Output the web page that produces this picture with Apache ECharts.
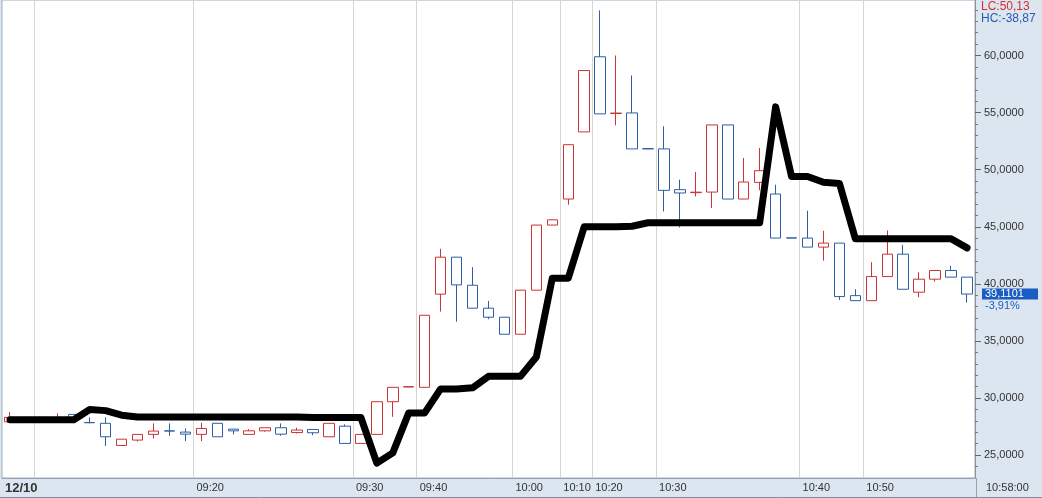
<!DOCTYPE html>
<html><head><meta charset="utf-8">
<script src="https://cdn.jsdelivr.net/npm/echarts@6/dist/echarts.min.js"></script>
<style>html,body{margin:0;padding:0;background:#dce6f0}#c{width:1042px;height:498px}</style>
</head><body><div id="c"></div>
<script>
// ---- data ----
const categories = ['09:01','09:06','09:10','09:11','09:12','09:13','09:14','09:15','09:16','09:17','09:18','09:19',
  '09:20','09:21','09:22','09:23','09:24','09:25','09:26','09:27','09:28','09:29',
  '09:30','09:32','09:35','09:38','09:40','09:41','09:43','09:45','09:47','09:49',
  '10:00','10:03','10:06','10:10','10:15','10:20','10:22','10:25','10:28',
  '10:30','10:31','10:32','10:33','10:34','10:35','10:36','10:37','10:39',
  '10:40','10:43','10:46','10:48','10:50','10:52','10:53','10:54','10:55','10:56','10:58'];
// [open, close, low, high]
const candles = [
  [27.92,28.31,27.92,28.77],[27.88,28.31,27.88,28.31],[28.31,27.95,27.95,28.31],[28.10,28.20,28.10,28.66],
  [28.57,28.16,28.16,28.57],[27.86,27.84,27.79,28.31],[27.79,26.61,25.81,28.31],[25.85,26.40,25.85,26.40],
  [26.32,26.82,26.20,26.82],[26.82,27.11,26.46,27.78],[27.13,27.11,26.70,27.78],[27.02,26.84,26.23,27.34],
  [26.82,27.34,26.23,27.84],[27.79,26.61,26.61,27.79],[27.28,27.13,26.82,27.28],[26.82,27.13,26.82,27.28],
  [27.13,27.40,27.05,27.40],[27.40,26.84,26.70,27.78],[26.98,27.20,26.90,27.40],[27.25,26.96,26.75,27.25],
  [26.61,27.79,26.61,27.79],[27.54,26.03,26.03,27.70],[26.03,26.82,26.03,26.82],[26.82,29.68,26.82,29.68],
  [29.68,30.94,28.36,30.94],[30.97,31.00,30.97,31.00],[30.94,37.25,30.94,37.25],[39.10,42.34,37.57,43.07],
  [42.34,39.91,36.69,42.34],[39.88,37.87,37.87,41.46],[37.87,37.08,36.90,38.51],[37.08,35.59,35.59,37.08],
  [35.59,39.45,35.59,39.45],[39.45,45.15,39.45,45.15],[45.15,45.61,45.15,45.61],[47.43,52.19,46.93,52.19],
  [53.31,58.68,53.31,58.68],[59.89,54.89,54.89,63.95],[54.92,54.96,53.89,60.00],[54.97,51.82,51.82,58.25],
  [51.84,51.82,51.82,51.84],[51.82,48.19,46.34,53.80],[48.25,47.96,44.94,49.12],[47.99,48.03,47.66,49.80],
  [48.04,53.92,46.64,53.92],[53.92,47.43,47.43,53.92],[47.43,48.92,47.43,51.02],[48.89,49.91,48.20,51.90],
  [47.87,44.01,44.01,48.68],[44.03,44.01,44.01,44.03],[44.01,43.22,43.22,46.40],[43.22,43.57,42.04,44.65],
  [43.57,38.89,38.60,43.57],[38.97,38.53,38.53,39.53],[38.53,40.64,38.53,41.90],[40.64,42.60,40.64,44.68],
  [42.60,39.53,39.53,43.42],[39.27,40.41,38.83,41.02],[40.41,41.17,40.20,41.17],[41.17,40.59,40.59,41.58],
  [40.59,39.11,38.36,40.59]
];
const overlay = [28.1,28.1,28.1,28.1,28.1,29.0,28.9,28.5,28.35,28.35,28.35,28.35,28.35,28.35,28.35,28.35,
  28.35,28.35,28.35,28.3,28.3,28.3,28.3,24.3,25.2,28.7,28.7,30.8,30.8,30.9,31.9,31.9,31.9,33.6,40.5,40.5,
  45.0,45.0,45.0,45.05,45.35,45.35,45.35,45.35,45.35,45.35,45.35,45.35,55.5,49.4,49.4,48.9,48.8,
  43.95,43.95,43.95,43.95,43.95,43.95,43.95,43.15];
const gridLineIdx = [2,12,22,26,32,35,37,41,50,54];
const labelIdx = [12,22,26,32,35,37,41,50,54];
const labelText = ['09:20','09:30','09:40','10:00','10:10','10:20','10:30','10:40','10:50'];
const dateLabel = '12/10';
const yTicks = [25,30,35,40,45,50,55,60];
const yMin = 23, yMax = 64.86, yMinorStep = 1;
const lastPrice = 39.1101;
const changePct = '-3,91%';
const lcText = 'LC:50,13';
const hcText = 'HC:-38,87';
const endTime = '10:58:00';

// ---- chart ----
const RED = '#cc3333', BLUE = '#2d5fa0', FONT = 'Liberation Sans, Arial, sans-serif';
const GRID = {left: 2, right: 67, top: 0, bottom: 20};
const fmtNum = (v, d) => v.toFixed(d).replace('.', ',');
const chart = echarts.init(document.getElementById('c'), null, {renderer: 'canvas'});
const labelPos = [-0.31].concat(labelIdx.map(i => i - 0.31));
chart.setOption({
  animation: false,
  backgroundColor: '#dce6f0',
  textStyle: {fontFamily: FONT},
  grid: Object.assign({show: true, backgroundColor: '#ffffff', borderColor: '#a3aab3', borderWidth: 1}, GRID),
  xAxis: [{
    type: 'category', data: categories, boundaryGap: true,
    axisLine: {show: true, onZero: false, lineStyle: {color: '#9aa3ad'}},
    axisTick: {show: false}, axisLabel: {show: false},
    splitLine: {show: true, interval: (i) => gridLineIdx.indexOf(i) >= 0, lineStyle: {color: '#d5d5d5', width: 1}}
  }, {
    type: 'value', position: 'bottom', min: -0.5, max: 60.5,
    axisLine: {show: false, onZero: false}, axisTick: {show: false}, splitLine: {show: false},
    axisLabel: {
      customValues: labelPos, align: 'left', margin: 4, color: '#333', fontSize: 11, fontFamily: FONT,
      formatter: (v) => {
        const i = Math.round(v + 0.5);
        if (i === 0) return '{d|' + dateLabel + '}';
        const k = labelIdx.indexOf(i);
        return k >= 0 ? labelText[k] : '';
      },
      rich: {d: {fontWeight: 'bold', fontSize: 13, color: '#333', fontFamily: FONT}}
    }
  }],
  yAxis: [{
    type: 'value', position: 'right', min: yMin, max: yMax, interval: yMinorStep, alignTicks: false,
    axisLine: {show: true, onZero: false, lineStyle: {color: '#8c96a0'}},
    axisTick: {show: true, length: 3, lineStyle: {color: '#777'}},
    axisLabel: {
      margin: 9, color: '#333', fontSize: 11, fontFamily: FONT, showMinLabel: false, showMaxLabel: false,
      formatter: (v) => yTicks.indexOf(Math.round(v)) >= 0 && Math.abs(v - Math.round(v)) < 1e-6 ? fmtNum(v, 4) : ''
    },
    splitLine: {show: false}
  }, {
    type: 'value', position: 'right', offset: 0, min: yMin, max: yMax, alignTicks: false,
    axisLine: {show: false, onZero: false},
    axisTick: {show: true, customValues: yTicks, length: 6, lineStyle: {color: '#666'}},
    axisLabel: {show: false}, splitLine: {show: false}
  }],
  series: [{
    type: 'candlestick', xAxisIndex: 0, yAxisIndex: 0, data: candles, barWidth: 11,
    itemStyle: {color: '#ffffff', color0: '#ffffff', borderColor: RED, borderColor0: BLUE, borderWidth: 1},
    markLine: {
      silent: true, symbol: ['none', 'none'], animation: false,
      data: [{yAxis: lastPrice}],
      lineStyle: {color: 'rgba(0,0,0,0)', width: 0, opacity: 1},
      label: {
        show: true, position: 'end', distance: 7,
        formatter: () => '{e| }\n{a|' + fmtNum(lastPrice, 4) + '}\n{b|' + changePct + '}',
        rich: {
          e: {fontSize: 11, lineHeight: 12, fontFamily: FONT},
          a: {fontSize: 11, lineHeight: 12, color: '#fff', backgroundColor: '#1b5cc4', width: 53, padding: [0, 0, 0, 3], fontFamily: FONT},
          b: {fontSize: 11, lineHeight: 12, color: '#1f5fc0', padding: [0, 0, 0, 3], fontFamily: FONT}
        }
      }
    }
  }, {
    type: 'line', xAxisIndex: 0, yAxisIndex: 0, data: overlay, symbol: 'none', z: 5,
    lineStyle: {color: '#000000', width: 7, join: 'round', cap: 'round'}
  }],
  graphic: [
    {type: 'text', left: 981, top: 1, z: 100, style: {text: lcText, fill: '#d03030', font: '12px ' + FONT}},
    {type: 'text', left: 981, top: 13, z: 100, style: {text: hcText, fill: '#2a5ab0', font: '12px ' + FONT}},
    {type: 'text', left: 986, top: 482, z: 100, style: {text: endTime, fill: '#333', font: '11px ' + FONT}},
    {type: 'line', z: 100, shape: {x1: 976.5, y1: 478, x2: 976.5, y2: 498}, style: {stroke: '#9aa3ad', lineWidth: 1}},
    {type: 'line', z: 100, shape: {x1: 0, y1: 497.5, x2: 1042, y2: 497.5}, style: {stroke: '#8a8aa0', lineWidth: 1}}
  ]
});
</script></body></html>
